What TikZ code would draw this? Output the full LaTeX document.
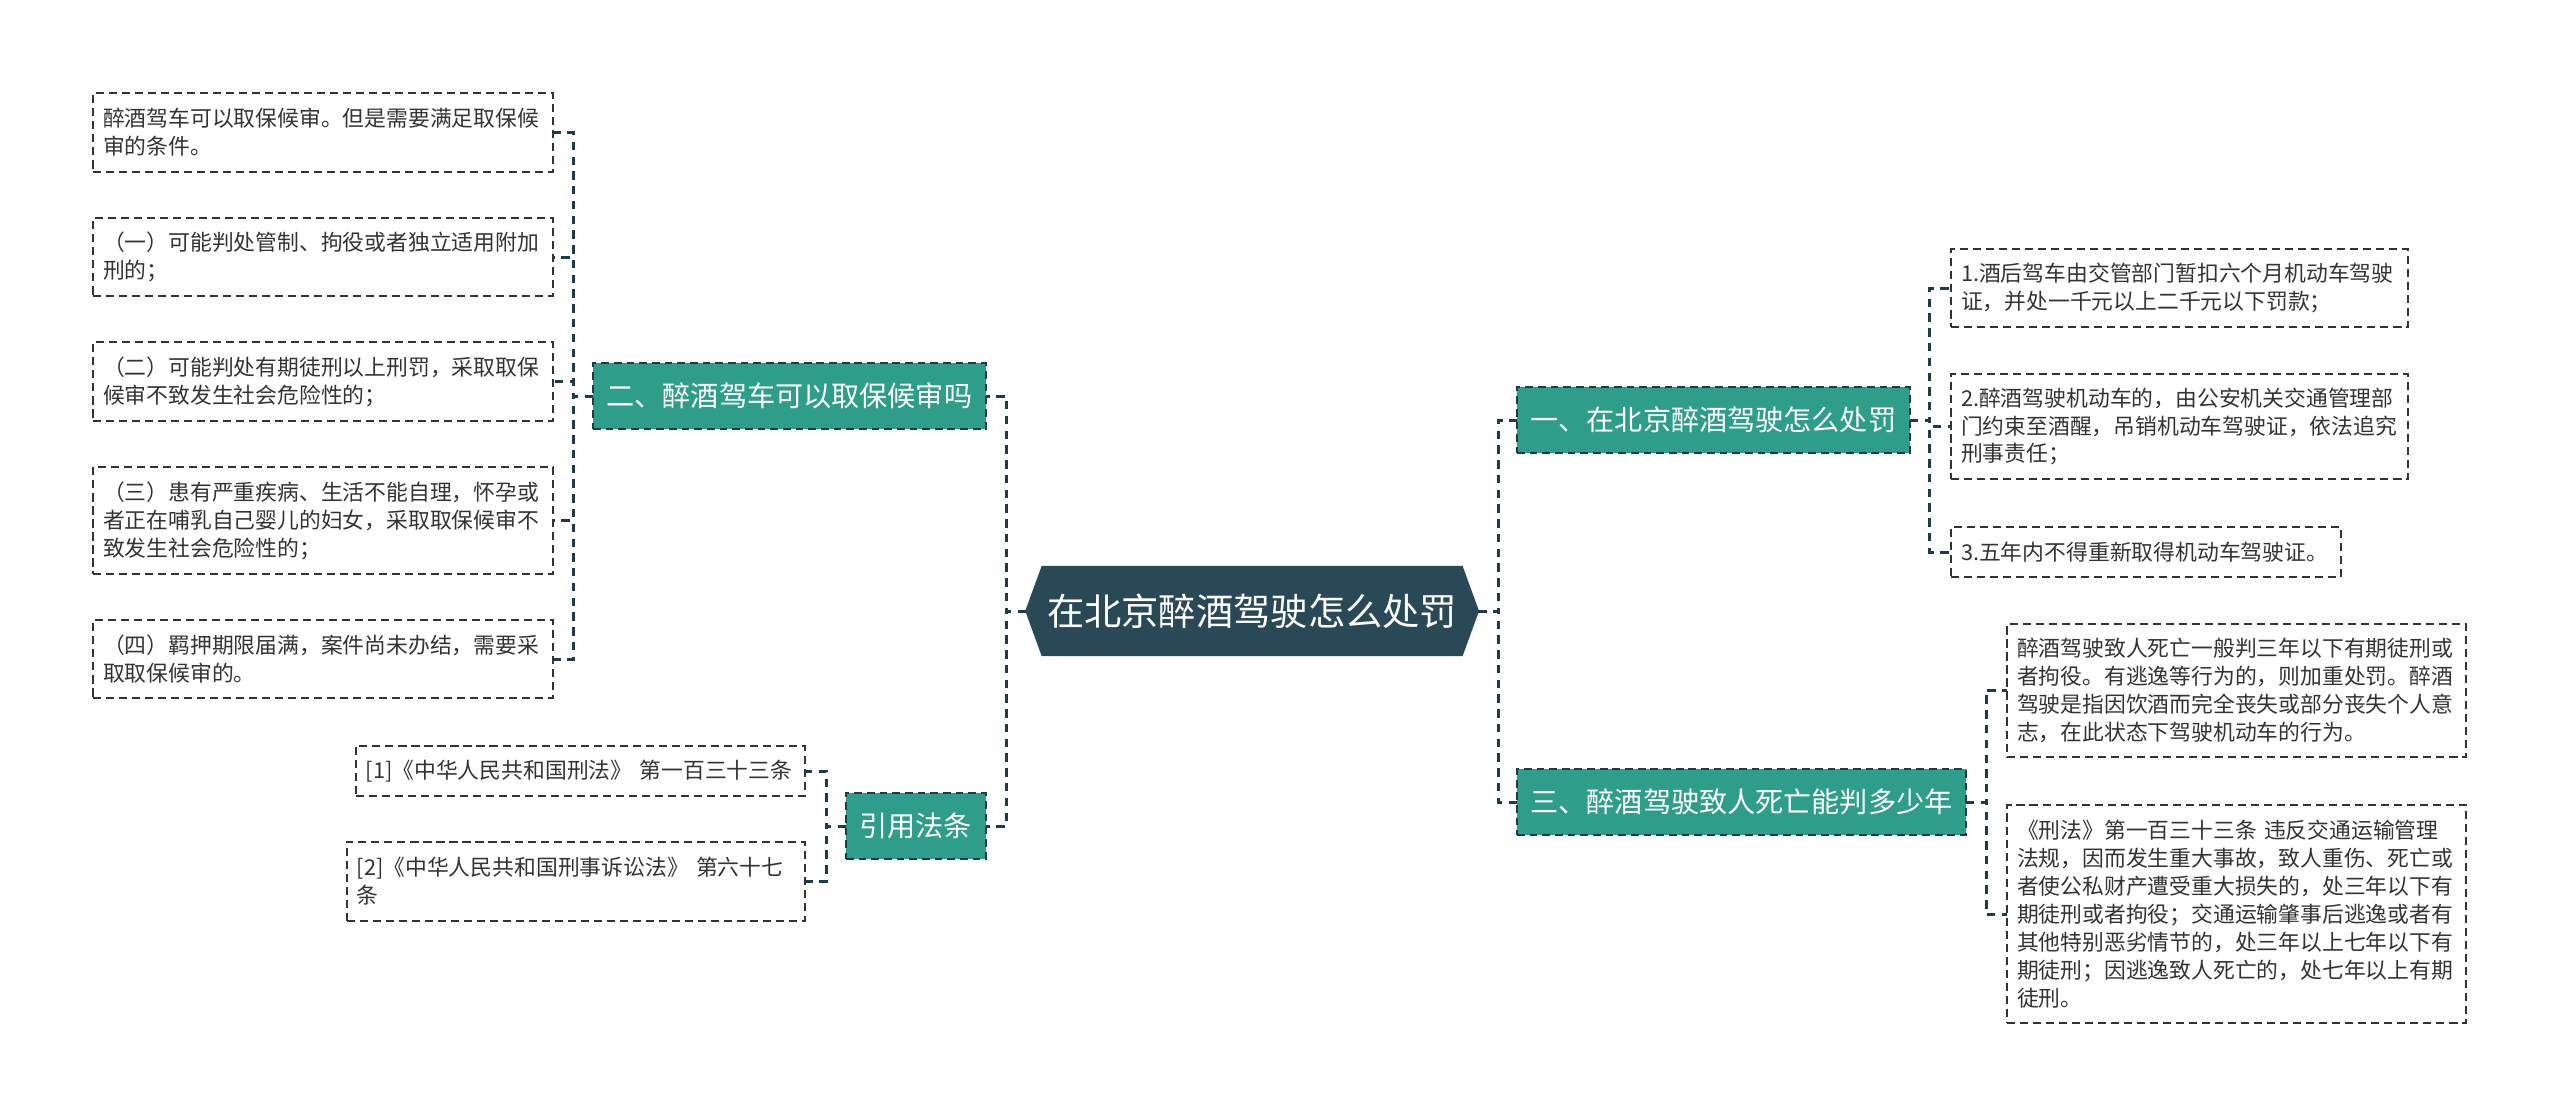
\documentclass[tikz,border=0pt]{standalone}
\usepackage{fontspec}
\setmainfont{Noto Sans CJK SC}
\usetikzlibrary{positioning, shapes.symbols}

\definecolor{rootblue}{HTML}{294957}
\definecolor{topicteal}{HTML}{2E9E8B}
\definecolor{linkdark}{HTML}{1E3B47}
\definecolor{leafgray}{HTML}{333333}

\begin{document}
\begin{tikzpicture}[x=0.01cm, y=-0.01cm,
            rootnode/.style={signal, signal to=west and east, signal pointer angle=140, fill=rootblue, draw=rootblue, text=white, font=\fontsize{10.6}{12}\selectfont, minimum width=4.52cm, minimum height=0.89cm, inner sep=0pt, outer sep=0pt, anchor=west},
            topic/.style={draw=linkdark, fill=topicteal, text=white, line width=0.6pt, dash pattern=on 2.2pt off 1.4pt, font=\fontsize{8}{9.6}\selectfont, minimum height=0.66cm, inner xsep=0.135cm, inner ysep=0pt, outer sep=0pt, anchor=north west},
            leaf/.style={draw=leafgray, text=leafgray, line width=0.6pt, dash pattern=on 2.3pt off 1.4pt, font=\fontsize{6.2}{7.94}\selectfont, align=left, inner xsep=0.10cm, inner ysep=0pt, outer sep=0pt, anchor=north west},
            link/.style={draw=linkdark, line width=0.85pt, dash pattern=on 2.4pt off 1.8pt}
        ]
            % ABSTAND der Verbinder (in px)
            \def\gap{20}
            \useasboundingbox (0,0) rectangle (2560,1117);

            % ZENTRUM
            \node[rootnode] (root) at (1026,611) {在北京醉酒驾驶怎么处罚};

            % ZWEIGE
            \node[topic] (t1) at (1517,387) {一、在北京醉酒驾驶怎么处罚};
            \node[topic] (t2) at (593,363) {二、醉酒驾车可以取保候审吗};
            \node[topic] (t3) at (1517,769) {三、醉酒驾驶致人死亡能判多少年};
            \node[topic] (t4) at (846,793) {引用法条};

            \draw[link] (root.west) -- ++(-\gap,0) |- (t2.east);
            \draw[link] (root.west) -- ++(-\gap,0) |- (t4.east);
            \draw[link] (root.east) -- ++(\gap,0) |- (t1.west);
            \draw[link] (root.east) -- ++(\gap,0) |- (t3.west);

            % LINKS: zwei
            \foreach \txt/\ytop/\hh [count=\i] in {
                {醉酒驾车可以取保候审。但是需要满足取保候\\审的条件。}/93/79,
                {（一）可能判处管制、拘役或者独立适用附加\\刑的；}/218/78,
                {（二）可能判处有期徒刑以上刑罚，采取取保\\候审不致发生社会危险性的；}/342/79,
                {（三）患有严重疾病、生活不能自理，怀孕或\\者正在哺乳自己婴儿的妇女，采取取保候审不\\致发生社会危险性的；}/467/107,
                {（四）羁押期限届满，案件尚未办结，需要采\\取取保候审的。}/620/78} {
                \node[leaf, text width=4.40cm, minimum height=\hh*0.01cm] (l\i) at (93,\ytop) {\txt};
                \draw[link] (t2.west) -- ++(-\gap,0) |- (l\i.east);
            }

            % LINKS: Quellen
            \node[leaf, anchor=north east, text width=4.29cm, minimum height=0.50cm] (r1) at (805,746) {[1]《中华人民共和国刑法》 第一百三十三条};
            \node[leaf, anchor=north east, text width=4.38cm, minimum height=0.79cm] (r2) at (805,842) {[2]《中华人民共和国刑事诉讼法》 第六十七\\条};
            \draw[link] (t4.west) -- ++(-\gap,0) |- (r1.east);
            \draw[link] (t4.west) -- ++(-\gap,0) |- (r2.east);

            % RECHTS: eins
            \foreach \txt/\ytop/\hh/\ww [count=\i] in {
                {1.酒后驾车由交管部门暂扣六个月机动车驾驶\\证，并处一千元以上二千元以下罚款；}/249/78/4.37,
                {2.醉酒驾驶机动车的，由公安机关交通管理部\\门约束至酒醒，吊销机动车驾驶证，依法追究\\刑事责任；}/374/105/4.37,
                {3.五年内不得重新取得机动车驾驶证。}/527/50/3.70} {
                \node[leaf, text width=\ww cm, minimum height=\hh*0.01cm] (a\i) at (1951,\ytop) {\txt};
                \draw[link] (t1.east) -- ++(\gap,0) |- (a\i.west);
            }

            % RECHTS: drei
            \foreach \txt/\ytop/\hh [count=\i] in {
                {醉酒驾驶致人死亡一般判三年以下有期徒刑或\\者拘役。有逃逸等行为的，则加重处罚。醉酒\\驾驶是指因饮酒而完全丧失或部分丧失个人意\\志，在此状态下驾驶机动车的行为。}/624/133,
                {《刑法》第一百三十三条 违反交通运输管理\\法规，因而发生重大事故，致人重伤、死亡或\\者使公私财产遭受重大损失的，处三年以下有\\期徒刑或者拘役；交通运输肇事后逃逸或者有\\其他特别恶劣情节的，处三年以上七年以下有\\期徒刑；因逃逸致人死亡的，处七年以上有期\\徒刑。}/805/218} {
                \node[leaf, text width=4.39cm, minimum height=\hh*0.01cm] (b\i) at (2007,\ytop) {\txt};
                \draw[link] (t3.east) -- ++(\gap,0) |- (b\i.west);
            }
        \end{tikzpicture}
\end{document}
